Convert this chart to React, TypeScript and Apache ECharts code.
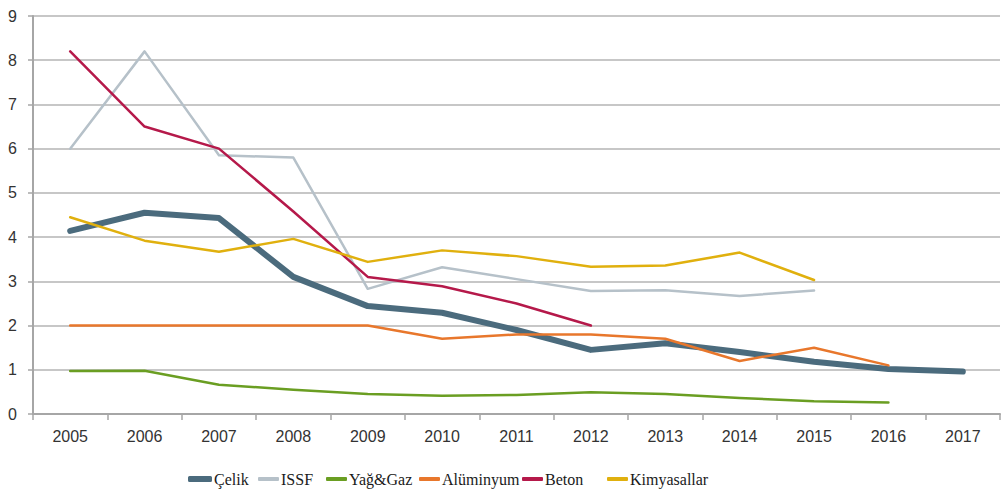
import React, { useEffect, useRef } from "react";
import * as echarts from "echarts";

const years = ["2005","2006","2007","2008","2009","2010","2011","2012","2013","2014","2015","2016","2017"];
const celik = [4.14, 4.55, 4.43, 3.1, 2.44, 2.29, 1.9, 1.45, 1.6, 1.4, 1.18, 1.02, 0.96];
const issf = [6.0, 8.2, 5.85, 5.8, 2.83, 3.32, 3.05, 2.78, 2.8, 2.67, 2.79, null, null];
const yagGaz = [0.97, 0.98, 0.66, 0.55, 0.45, 0.41, 0.43, 0.49, 0.45, 0.36, 0.29, 0.26, null];
const aluminyum = [2.0, 2.0, 2.0, 2.0, 2.0, 1.7, 1.8, 1.8, 1.7, 1.2, 1.5, 1.1, null];
const beton = [8.2, 6.5, 6.0, 4.58, 3.1, 2.89, 2.5, 2.0, null, null, null, null, null];
const kimyasallar = [4.45, 3.92, 3.67, 3.96, 3.44, 3.7, 3.57, 3.33, 3.36, 3.65, 3.03, null, null];
const seriesNames = ["Çelik", "ISSF", "Yağ&Gaz", "Alüminyum", "Beton", "Kimyasallar"];
const yTicks = [0, 1, 2, 3, 4, 5, 6, 7, 8, 9];

export default function App() {
  const ref = useRef<HTMLDivElement>(null);
  useEffect(() => {
    if (!ref.current) return;
    const chart = echarts.init(ref.current, null, { renderer: "svg" });
    const mk = (name: string, data: (number | null)[], color: string, width: number) => ({
      name,
      type: "line",
      data,
      symbol: "none",
      showSymbol: false,
      lineStyle: { color, width, cap: "round", join: "round" },
      itemStyle: { color },
      z: name === "Çelik" ? 1 : 2,
    });
    const legendLeft = [188, 258, 326, 419, 522, 607];
    const legends = seriesNames.map((n, i) => ({
      left: legendLeft[i],
      top: 471,
      itemWidth: i === 0 ? 24 : 21,
      itemHeight: i === 0 ? 6 : 4,
      icon: "roundRect",
      itemGap: 2,
      padding: 0,
      textStyle: { fontFamily: "Liberation Serif", fontSize: 16, color: "#1a1a1a", padding: [0, 0, 0, -3] },
      data: [n],
    }));
    chart.setOption({
      animation: false,
      backgroundColor: "#ffffff",
      grid: { left: 33, right: 1, top: 16, bottom: 81, containLabel: false },
      legend: legends,
      xAxis: {
        type: "category",
        data: years,
        boundaryGap: true,
        axisLine: { lineStyle: { color: "#a6a6a6", width: 2 } },
        axisTick: { show: true, length: 6, lineStyle: { color: "#a6a6a6", width: 1.5 } },
        axisLabel: { color: "#333", fontFamily: "Liberation Sans", fontSize: 16, margin: 14 },
      },
      yAxis: {
        type: "value",
        min: 0,
        max: 9,
        interval: 1,
        axisLine: { show: true, lineStyle: { color: "#a6a6a6", width: 2 } },
        axisTick: { show: true, length: 5, lineStyle: { color: "#a6a6a6", width: 1.5 } },
        splitLine: { lineStyle: { color: "#b4b4b4", width: 1.5 } },
        axisLabel: {
          color: "#333",
          fontFamily: "Liberation Sans",
          fontSize: 16,
          margin: 16,
          formatter: (v: number) => (yTicks.includes(v) ? String(v) : ""),
        },
      },
      series: [
        mk("Çelik", celik, "#4b6b7d", 6),
        mk("ISSF", issf, "#b6c1c9", 2.5),
        mk("Yağ&Gaz", yagGaz, "#6a9e22", 2.5),
        mk("Alüminyum", aluminyum, "#e8772c", 2.5),
        mk("Beton", beton, "#b5194a", 2.5),
        mk("Kimyasallar", kimyasallar, "#e0b00e", 2.5),
      ],
    });
    return () => chart.dispose();
  }, []);
  return <div ref={ref} style={{ width: 1001, height: 495, position: "absolute", left: 0, top: 0 }} />;
}
